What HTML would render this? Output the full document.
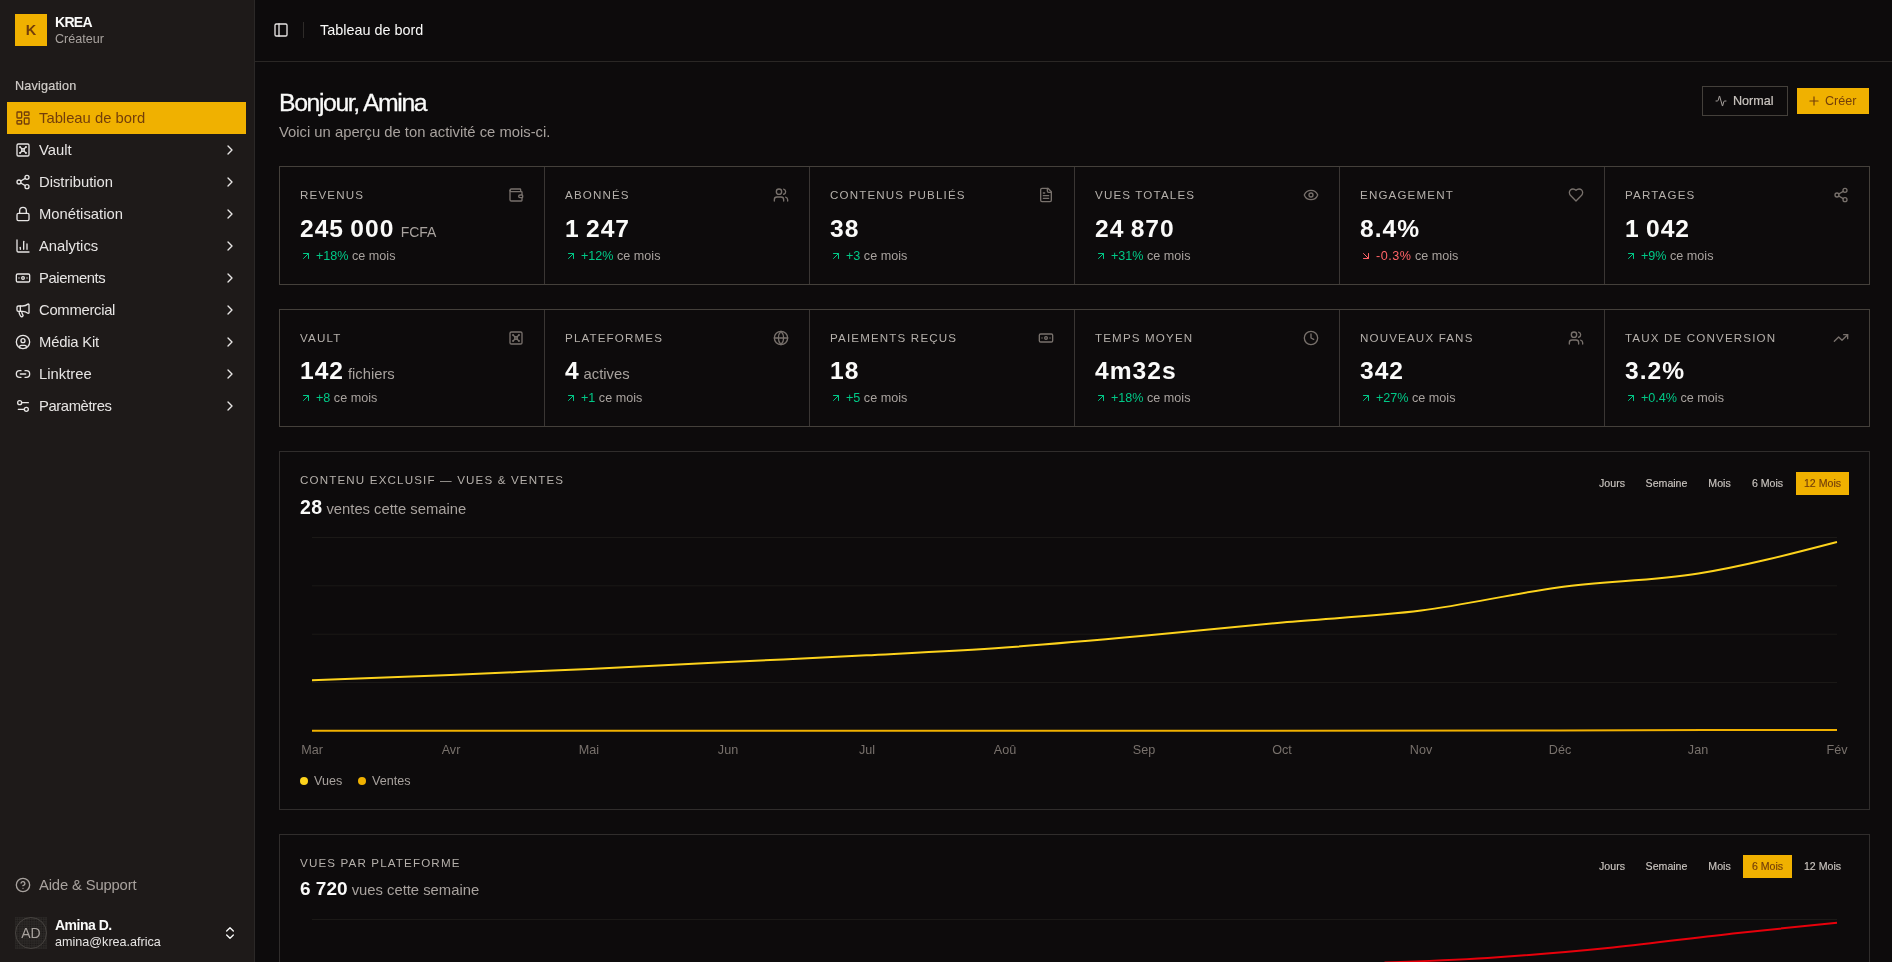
<!DOCTYPE html>
<html><head><meta charset="utf-8"><title>KREA</title>
<style>
*{margin:0;padding:0;box-sizing:content-box}
html,body{width:1892px;height:962px;overflow:hidden;background:#0d0b0c;font-family:"Liberation Sans",sans-serif;}
#sb{position:absolute;left:0;top:0;width:254px;height:962px;background:#1e1a19;border-right:1px solid #2b2827;}
#hdr{position:absolute;left:255px;top:0;width:1637px;height:61px;border-bottom:1px solid #2a2725;}
.box,.t,.t0,.ic,.abs{position:absolute}
.t0{white-space:nowrap;will-change:transform}
.ic{display:block}
</style></head><body>
<div id="sb">
<div class="box" style="left:15px;top:14px;width:32px;height:32px;background:#f0b100;"></div>
<div class="t0" style="left:15px;top:14px;font-size:14.5px;color:#733e0a;font-weight:700;letter-spacing:0px;width:32px;text-align:center;line-height:32px;height:32px;">K</div>
<div class="t0" style="left:55px;top:13px;font-size:14px;color:#fafaf9;font-weight:700;letter-spacing:-0.7px;line-height:18px;">KREA</div>
<div class="t0" style="left:55px;top:31px;font-size:12.6px;color:#a8a29e;font-weight:400;letter-spacing:0px;line-height:16px;">Créateur</div>
<div class="t0" style="left:15px;top:78px;font-size:12.6px;color:#d0ccc8;font-weight:400;letter-spacing:0.2px;line-height:16px;-webkit-text-stroke:0.2px #d0ccc8;">Navigation</div>
<div class="box" style="left:7px;top:102px;width:239px;height:32px;background:#f0b100;"></div>
<svg class="ic" style="left:15px;top:110px;width:16px;height:16px;" viewBox="0 0 24 24" fill="none" stroke="#733e0a" stroke-width="2" stroke-linecap="round" stroke-linejoin="round"><rect width="7" height="9" x="3" y="3" rx="1"/><rect width="7" height="5" x="14" y="3" rx="1"/><rect width="7" height="9" x="14" y="12" rx="1"/><rect width="7" height="5" x="3" y="16" rx="1"/></svg>
<div class="t0" style="left:39px;top:102px;font-size:14.8px;color:#733e0a;font-weight:400;letter-spacing:0px;line-height:32px;">Tableau de bord</div>
<svg class="ic" style="left:15px;top:142px;width:16px;height:16px;" viewBox="0 0 24 24" fill="none" stroke="#e7e5e4" stroke-width="2" stroke-linecap="round" stroke-linejoin="round"><rect width="18" height="18" x="3" y="3" rx="2"/><circle cx="7.5" cy="7.5" r=".5" fill="currentColor"/><path d="m7.9 7.9 2.7 2.7"/><circle cx="16.5" cy="7.5" r=".5" fill="currentColor"/><path d="m13.4 10.6 2.7-2.7"/><circle cx="7.5" cy="16.5" r=".5" fill="currentColor"/><path d="m7.9 16.1 2.7-2.7"/><circle cx="16.5" cy="16.5" r=".5" fill="currentColor"/><path d="m13.4 13.4 2.7 2.7"/><circle cx="12" cy="12" r="2"/></svg>
<div class="t0" style="left:39px;top:134px;font-size:14.8px;color:#e7e5e4;font-weight:400;letter-spacing:0px;line-height:32px;">Vault</div>
<svg class="ic" style="left:222px;top:142px;width:16px;height:16px;" viewBox="0 0 24 24" fill="none" stroke="#e7e5e4" stroke-width="2" stroke-linecap="round" stroke-linejoin="round"><path d="m9 18 6-6-6-6"/></svg>
<svg class="ic" style="left:15px;top:174px;width:16px;height:16px;" viewBox="0 0 24 24" fill="none" stroke="#e7e5e4" stroke-width="2" stroke-linecap="round" stroke-linejoin="round"><circle cx="18" cy="5" r="3"/><circle cx="6" cy="12" r="3"/><circle cx="18" cy="19" r="3"/><line x1="8.59" x2="15.42" y1="13.51" y2="17.49"/><line x1="15.41" x2="8.59" y1="6.51" y2="10.49"/></svg>
<div class="t0" style="left:39px;top:166px;font-size:14.8px;color:#e7e5e4;font-weight:400;letter-spacing:0px;line-height:32px;">Distribution</div>
<svg class="ic" style="left:222px;top:174px;width:16px;height:16px;" viewBox="0 0 24 24" fill="none" stroke="#e7e5e4" stroke-width="2" stroke-linecap="round" stroke-linejoin="round"><path d="m9 18 6-6-6-6"/></svg>
<svg class="ic" style="left:15px;top:206px;width:16px;height:16px;" viewBox="0 0 24 24" fill="none" stroke="#e7e5e4" stroke-width="2" stroke-linecap="round" stroke-linejoin="round"><rect width="18" height="11" x="3" y="11" rx="2" ry="2"/><path d="M7 11V7a5 5 0 0 1 10 0v4"/></svg>
<div class="t0" style="left:39px;top:198px;font-size:14.8px;color:#e7e5e4;font-weight:400;letter-spacing:0px;line-height:32px;">Monétisation</div>
<svg class="ic" style="left:222px;top:206px;width:16px;height:16px;" viewBox="0 0 24 24" fill="none" stroke="#e7e5e4" stroke-width="2" stroke-linecap="round" stroke-linejoin="round"><path d="m9 18 6-6-6-6"/></svg>
<svg class="ic" style="left:15px;top:238px;width:16px;height:16px;" viewBox="0 0 24 24" fill="none" stroke="#e7e5e4" stroke-width="2" stroke-linecap="round" stroke-linejoin="round"><path d="M3 3v16a2 2 0 0 0 2 2h16"/><path d="M18 17V9"/><path d="M13 17V5"/><path d="M8 17v-3"/></svg>
<div class="t0" style="left:39px;top:230px;font-size:14.8px;color:#e7e5e4;font-weight:400;letter-spacing:0px;line-height:32px;">Analytics</div>
<svg class="ic" style="left:222px;top:238px;width:16px;height:16px;" viewBox="0 0 24 24" fill="none" stroke="#e7e5e4" stroke-width="2" stroke-linecap="round" stroke-linejoin="round"><path d="m9 18 6-6-6-6"/></svg>
<svg class="ic" style="left:15px;top:270px;width:16px;height:16px;" viewBox="0 0 24 24" fill="none" stroke="#e7e5e4" stroke-width="2" stroke-linecap="round" stroke-linejoin="round"><rect width="20" height="12" x="2" y="6" rx="2"/><circle cx="12" cy="12" r="2"/><path d="M6 12h.01M18 12h.01"/></svg>
<div class="t0" style="left:39px;top:262px;font-size:14.8px;color:#e7e5e4;font-weight:400;letter-spacing:-0.4px;line-height:32px;">Paiements</div>
<svg class="ic" style="left:222px;top:270px;width:16px;height:16px;" viewBox="0 0 24 24" fill="none" stroke="#e7e5e4" stroke-width="2" stroke-linecap="round" stroke-linejoin="round"><path d="m9 18 6-6-6-6"/></svg>
<svg class="ic" style="left:15px;top:302px;width:16px;height:16px;" viewBox="0 0 24 24" fill="none" stroke="#e7e5e4" stroke-width="2" stroke-linecap="round" stroke-linejoin="round"><path d="M11 6a13 13 0 0 0 8.4-2.8A1 1 0 0 1 21 4v12a1 1 0 0 1-1.6.8A13 13 0 0 0 11 14H5a2 2 0 0 1-2-2V8a2 2 0 0 1 2-2z"/><path d="M6 14a12 12 0 0 0 2.4 7.2 2 2 0 0 0 3.2-2.4A8 8 0 0 1 10 14"/><path d="M8 6v8"/></svg>
<div class="t0" style="left:39px;top:294px;font-size:14.8px;color:#e7e5e4;font-weight:400;letter-spacing:-0.28px;line-height:32px;">Commercial</div>
<svg class="ic" style="left:222px;top:302px;width:16px;height:16px;" viewBox="0 0 24 24" fill="none" stroke="#e7e5e4" stroke-width="2" stroke-linecap="round" stroke-linejoin="round"><path d="m9 18 6-6-6-6"/></svg>
<svg class="ic" style="left:15px;top:334px;width:16px;height:16px;" viewBox="0 0 24 24" fill="none" stroke="#e7e5e4" stroke-width="2" stroke-linecap="round" stroke-linejoin="round"><circle cx="12" cy="12" r="10"/><circle cx="12" cy="10" r="3"/><path d="M7 20.662V19a2 2 0 0 1 2-2h6a2 2 0 0 1 2 2v1.662"/></svg>
<div class="t0" style="left:39px;top:326px;font-size:14.8px;color:#e7e5e4;font-weight:400;letter-spacing:-0.2px;line-height:32px;">Média Kit</div>
<svg class="ic" style="left:222px;top:334px;width:16px;height:16px;" viewBox="0 0 24 24" fill="none" stroke="#e7e5e4" stroke-width="2" stroke-linecap="round" stroke-linejoin="round"><path d="m9 18 6-6-6-6"/></svg>
<svg class="ic" style="left:15px;top:366px;width:16px;height:16px;" viewBox="0 0 24 24" fill="none" stroke="#e7e5e4" stroke-width="2" stroke-linecap="round" stroke-linejoin="round"><path d="M9 17H7A5 5 0 0 1 7 7h2"/><path d="M15 7h2a5 5 0 1 1 0 10h-2"/><line x1="8" x2="16" y1="12" y2="12"/></svg>
<div class="t0" style="left:39px;top:358px;font-size:14.8px;color:#e7e5e4;font-weight:400;letter-spacing:0px;line-height:32px;">Linktree</div>
<svg class="ic" style="left:222px;top:366px;width:16px;height:16px;" viewBox="0 0 24 24" fill="none" stroke="#e7e5e4" stroke-width="2" stroke-linecap="round" stroke-linejoin="round"><path d="m9 18 6-6-6-6"/></svg>
<svg class="ic" style="left:15px;top:398px;width:16px;height:16px;" viewBox="0 0 24 24" fill="none" stroke="#e7e5e4" stroke-width="2" stroke-linecap="round" stroke-linejoin="round"><path d="M20 7h-9"/><path d="M14 17H5"/><circle cx="17" cy="17" r="3"/><circle cx="7" cy="7" r="3"/></svg>
<div class="t0" style="left:39px;top:390px;font-size:14.8px;color:#e7e5e4;font-weight:400;letter-spacing:-0.4px;line-height:32px;">Paramètres</div>
<svg class="ic" style="left:222px;top:398px;width:16px;height:16px;" viewBox="0 0 24 24" fill="none" stroke="#e7e5e4" stroke-width="2" stroke-linecap="round" stroke-linejoin="round"><path d="m9 18 6-6-6-6"/></svg>
<svg class="ic" style="left:15px;top:877px;width:16px;height:16px;" viewBox="0 0 24 24" fill="none" stroke="#a8a29e" stroke-width="2" stroke-linecap="round" stroke-linejoin="round"><circle cx="12" cy="12" r="10"/><path d="M9.09 9a3 3 0 0 1 5.83 1c0 2-3 3-3 3"/><path d="M12 17h.01"/></svg>
<div class="t0" style="left:39px;top:869px;font-size:14.8px;color:#a8a29e;font-weight:400;letter-spacing:-0.15px;line-height:32px;">Aide &amp; Support</div>
<div class="box" style="left:15px;top:917px;width:32px;height:32px;background:radial-gradient(circle,#1a1716 0.55px,transparent 0.9px) 0 0/2.4px 2.4px,#2b2826;"></div>
<div class="box" style="left:15px;top:917px;width:30px;height:30px;border:1px solid #46423f;border-radius:50%;"></div>
<div class="t0" style="left:15px;top:917px;font-size:14px;color:#a8a29e;font-weight:400;letter-spacing:0px;width:32px;text-align:center;line-height:32px;">AD</div>
<div class="t0" style="left:55px;top:916px;font-size:14px;color:#fafaf9;font-weight:700;letter-spacing:-0.5px;line-height:18px;">Amina D.</div>
<div class="t0" style="left:55px;top:934px;font-size:12.6px;color:#e7e5e4;font-weight:400;letter-spacing:0px;line-height:16px;">amina@krea.africa</div>
<svg class="ic" style="left:222px;top:925px;width:16px;height:16px;" viewBox="0 0 24 24" fill="none" stroke="#fafaf9" stroke-width="2" stroke-linecap="round" stroke-linejoin="round"><path d="m7 15 5 5 5-5"/><path d="m7 9 5-5 5 5"/></svg>
</div>
<div id="hdr"></div>
<svg class="ic" style="left:273px;top:22px;width:16px;height:16px;" viewBox="0 0 24 24" fill="none" stroke="#e7e5e4" stroke-width="2" stroke-linecap="round" stroke-linejoin="round"><rect width="18" height="18" x="3" y="3" rx="2"/><path d="M9 3v18"/></svg>
<div class="box" style="left:303px;top:22px;width:1px;height:16px;background:#2e2b29;"></div>
<div class="t0" style="left:320px;top:21px;font-size:14.4px;color:#fafaf9;font-weight:400;letter-spacing:0px;line-height:18px;">Tableau de bord</div>
<div class="t0" style="left:279px;top:88px;font-size:24.8px;color:#fafaf9;font-weight:400;letter-spacing:-1.4px;line-height:30px;-webkit-text-stroke:0.3px #fafaf9;">Bonjour, Amina</div>
<div class="t0" style="left:279px;top:122px;font-size:14.8px;color:#a8a29e;font-weight:400;letter-spacing:0px;line-height:20px;">Voici un aperçu de ton activité ce mois-ci.</div>
<div class="box" style="left:1702px;top:86px;width:84px;height:28px;border:1px solid #44403b;"></div>
<svg class="ic" style="left:1715px;top:95px;width:12px;height:12px;" viewBox="0 0 24 24" fill="none" stroke="#a8a29e" stroke-width="2" stroke-linecap="round" stroke-linejoin="round"><path d="M22 12h-2.48a2 2 0 0 0-1.93 1.46l-2.35 8.36a.25.25 0 0 1-.48 0L9.24 2.18a.25.25 0 0 0-.48 0l-2.35 8.36A2 2 0 0 1 4.49 12H2"/></svg>
<div class="t0" style="left:1733px;top:92px;font-size:12.6px;color:#c9c4bf;font-weight:400;letter-spacing:0px;line-height:18px;-webkit-text-stroke:0.2px #c9c4bf;">Normal</div>
<div class="box" style="left:1797px;top:88px;width:72px;height:26px;background:#f0b100;"></div>
<svg class="ic" style="left:1807px;top:94px;width:14px;height:14px;" viewBox="0 0 24 24" fill="none" stroke="#733e0a" stroke-width="2" stroke-linecap="round" stroke-linejoin="round"><path d="M5 12h14"/><path d="M12 5v14"/></svg>
<div class="t0" style="left:1825px;top:92px;font-size:12.6px;color:#733e0a;font-weight:400;letter-spacing:0px;line-height:18px;">Créer</div>
<div class="box" style="left:279px;top:166px;width:1589px;height:117px;border:1px solid #44403b;"></div>
<div class="box" style="left:544px;top:167px;width:1px;height:117px;background:#3a3634;"></div>
<div class="box" style="left:809px;top:167px;width:1px;height:117px;background:#3a3634;"></div>
<div class="box" style="left:1074px;top:167px;width:1px;height:117px;background:#3a3634;"></div>
<div class="box" style="left:1339px;top:167px;width:1px;height:117px;background:#3a3634;"></div>
<div class="box" style="left:1604px;top:167px;width:1px;height:117px;background:#3a3634;"></div>
<div class="t0" style="left:300px;top:187px;font-size:11.6px;color:#b5b0ab;font-weight:400;letter-spacing:1.15px;line-height:16px;">REVENUS</div>
<svg class="ic" style="left:508px;top:187px;width:16px;height:16px;" viewBox="0 0 24 24" fill="none" stroke="#78716c" stroke-width="2" stroke-linecap="round" stroke-linejoin="round"><path d="M19 7V4a1 1 0 0 0-1-1H5a2 2 0 0 0 0 4h15a1 1 0 0 1 1 1v4h-3a2 2 0 0 0 0 4h3a1 1 0 0 0 1-1v-2a1 1 0 0 0-1-1"/><path d="M3 5v14a2 2 0 0 0 2 2h15a1 1 0 0 0 1-1v-4"/></svg>
<div class="t0" style="left:300px;top:212px;font-size:24.6px;color:#fafaf9;font-weight:700;letter-spacing:1.0px;line-height:33px;word-spacing:-1.5px;">245 000 <span style="font-size:14px;font-weight:400;color:#a8a29e;letter-spacing:-0.1px">FCFA</span></div>
<svg class="ic" style="left:300px;top:250px;width:12px;height:12px;" viewBox="0 0 24 24" fill="none" stroke="#00c987" stroke-width="2" stroke-linecap="round" stroke-linejoin="round"><path d="M7 7h10v10"/><path d="M7 17 17 7"/></svg>
<div class="t0" style="left:316px;top:247px;font-size:12.6px;color:#a8a29e;font-weight:400;letter-spacing:0px;line-height:18px;"><span style="color:#00c987;letter-spacing:0px">+18%</span> ce mois</div>
<div class="t0" style="left:565px;top:187px;font-size:11.6px;color:#b5b0ab;font-weight:400;letter-spacing:1.15px;line-height:16px;">ABONNÉS</div>
<svg class="ic" style="left:773px;top:187px;width:16px;height:16px;" viewBox="0 0 24 24" fill="none" stroke="#78716c" stroke-width="2" stroke-linecap="round" stroke-linejoin="round"><path d="M16 21v-2a4 4 0 0 0-4-4H6a4 4 0 0 0-4 4v2"/><circle cx="9" cy="7" r="4"/><path d="M22 21v-2a4 4 0 0 0-3-3.87"/><path d="M16 3.13a4 4 0 0 1 0 7.75"/></svg>
<div class="t0" style="left:565px;top:212px;font-size:24.6px;color:#fafaf9;font-weight:700;letter-spacing:1.0px;line-height:33px;word-spacing:-1.5px;">1 247</div>
<svg class="ic" style="left:565px;top:250px;width:12px;height:12px;" viewBox="0 0 24 24" fill="none" stroke="#00c987" stroke-width="2" stroke-linecap="round" stroke-linejoin="round"><path d="M7 7h10v10"/><path d="M7 17 17 7"/></svg>
<div class="t0" style="left:581px;top:247px;font-size:12.6px;color:#a8a29e;font-weight:400;letter-spacing:0px;line-height:18px;"><span style="color:#00c987;letter-spacing:0px">+12%</span> ce mois</div>
<div class="t0" style="left:830px;top:187px;font-size:11.6px;color:#b5b0ab;font-weight:400;letter-spacing:1.15px;line-height:16px;">CONTENUS PUBLIÉS</div>
<svg class="ic" style="left:1038px;top:187px;width:16px;height:16px;" viewBox="0 0 24 24" fill="none" stroke="#78716c" stroke-width="2" stroke-linecap="round" stroke-linejoin="round"><path d="M15 2H6a2 2 0 0 0-2 2v16a2 2 0 0 0 2 2h12a2 2 0 0 0 2-2V7Z"/><path d="M14 2v4a2 2 0 0 0 2 2h4"/><path d="M10 9H8"/><path d="M16 13H8"/><path d="M16 17H8"/></svg>
<div class="t0" style="left:830px;top:212px;font-size:24.6px;color:#fafaf9;font-weight:700;letter-spacing:1.0px;line-height:33px;word-spacing:-1.5px;">38</div>
<svg class="ic" style="left:830px;top:250px;width:12px;height:12px;" viewBox="0 0 24 24" fill="none" stroke="#00c987" stroke-width="2" stroke-linecap="round" stroke-linejoin="round"><path d="M7 7h10v10"/><path d="M7 17 17 7"/></svg>
<div class="t0" style="left:846px;top:247px;font-size:12.6px;color:#a8a29e;font-weight:400;letter-spacing:0px;line-height:18px;"><span style="color:#00c987;letter-spacing:0px">+3</span> ce mois</div>
<div class="t0" style="left:1095px;top:187px;font-size:11.6px;color:#b5b0ab;font-weight:400;letter-spacing:1.15px;line-height:16px;">VUES TOTALES</div>
<svg class="ic" style="left:1303px;top:187px;width:16px;height:16px;" viewBox="0 0 24 24" fill="none" stroke="#78716c" stroke-width="2" stroke-linecap="round" stroke-linejoin="round"><path d="M2.062 12.348a1 1 0 0 1 0-.696 10.75 10.75 0 0 1 19.876 0 1 1 0 0 1 0 .696 10.75 10.75 0 0 1-19.876 0"/><circle cx="12" cy="12" r="3"/></svg>
<div class="t0" style="left:1095px;top:212px;font-size:24.6px;color:#fafaf9;font-weight:700;letter-spacing:1.0px;line-height:33px;word-spacing:-1.5px;">24 870</div>
<svg class="ic" style="left:1095px;top:250px;width:12px;height:12px;" viewBox="0 0 24 24" fill="none" stroke="#00c987" stroke-width="2" stroke-linecap="round" stroke-linejoin="round"><path d="M7 7h10v10"/><path d="M7 17 17 7"/></svg>
<div class="t0" style="left:1111px;top:247px;font-size:12.6px;color:#a8a29e;font-weight:400;letter-spacing:0px;line-height:18px;"><span style="color:#00c987;letter-spacing:0px">+31%</span> ce mois</div>
<div class="t0" style="left:1360px;top:187px;font-size:11.6px;color:#b5b0ab;font-weight:400;letter-spacing:1.15px;line-height:16px;">ENGAGEMENT</div>
<svg class="ic" style="left:1568px;top:187px;width:16px;height:16px;" viewBox="0 0 24 24" fill="none" stroke="#78716c" stroke-width="2" stroke-linecap="round" stroke-linejoin="round"><path d="M19 14c1.49-1.46 3-3.21 3-5.5A5.5 5.5 0 0 0 16.5 3c-1.76 0-3 .5-4.5 2-1.5-1.5-2.74-2-4.5-2A5.5 5.5 0 0 0 2 8.5c0 2.3 1.5 4.05 3 5.5l7 7Z"/></svg>
<div class="t0" style="left:1360px;top:212px;font-size:24.6px;color:#fafaf9;font-weight:700;letter-spacing:1.0px;line-height:33px;word-spacing:-1.5px;">8.4%</div>
<svg class="ic" style="left:1360px;top:250px;width:12px;height:12px;" viewBox="0 0 24 24" fill="none" stroke="#ff6467" stroke-width="2" stroke-linecap="round" stroke-linejoin="round"><path d="m7 7 10 10"/><path d="M17 7v10H7"/></svg>
<div class="t0" style="left:1376px;top:247px;font-size:12.6px;color:#a8a29e;font-weight:400;letter-spacing:0px;line-height:18px;"><span style="color:#ff6467;letter-spacing:0.5px">-0.3%</span> ce mois</div>
<div class="t0" style="left:1625px;top:187px;font-size:11.6px;color:#b5b0ab;font-weight:400;letter-spacing:1.15px;line-height:16px;">PARTAGES</div>
<svg class="ic" style="left:1833px;top:187px;width:16px;height:16px;" viewBox="0 0 24 24" fill="none" stroke="#78716c" stroke-width="2" stroke-linecap="round" stroke-linejoin="round"><circle cx="18" cy="5" r="3"/><circle cx="6" cy="12" r="3"/><circle cx="18" cy="19" r="3"/><line x1="8.59" x2="15.42" y1="13.51" y2="17.49"/><line x1="15.41" x2="8.59" y1="6.51" y2="10.49"/></svg>
<div class="t0" style="left:1625px;top:212px;font-size:24.6px;color:#fafaf9;font-weight:700;letter-spacing:1.0px;line-height:33px;word-spacing:-1.5px;">1 042</div>
<svg class="ic" style="left:1625px;top:250px;width:12px;height:12px;" viewBox="0 0 24 24" fill="none" stroke="#00c987" stroke-width="2" stroke-linecap="round" stroke-linejoin="round"><path d="M7 7h10v10"/><path d="M7 17 17 7"/></svg>
<div class="t0" style="left:1641px;top:247px;font-size:12.6px;color:#a8a29e;font-weight:400;letter-spacing:0px;line-height:18px;"><span style="color:#00c987;letter-spacing:0px">+9%</span> ce mois</div>
<div class="box" style="left:279px;top:309px;width:1589px;height:116px;border:1px solid #44403b;"></div>
<div class="box" style="left:544px;top:310px;width:1px;height:116px;background:#3a3634;"></div>
<div class="box" style="left:809px;top:310px;width:1px;height:116px;background:#3a3634;"></div>
<div class="box" style="left:1074px;top:310px;width:1px;height:116px;background:#3a3634;"></div>
<div class="box" style="left:1339px;top:310px;width:1px;height:116px;background:#3a3634;"></div>
<div class="box" style="left:1604px;top:310px;width:1px;height:116px;background:#3a3634;"></div>
<div class="t0" style="left:300px;top:330px;font-size:11.6px;color:#b5b0ab;font-weight:400;letter-spacing:1.15px;line-height:16px;">VAULT</div>
<svg class="ic" style="left:508px;top:330px;width:16px;height:16px;" viewBox="0 0 24 24" fill="none" stroke="#78716c" stroke-width="2" stroke-linecap="round" stroke-linejoin="round"><rect width="18" height="18" x="3" y="3" rx="2"/><circle cx="7.5" cy="7.5" r=".5" fill="currentColor"/><path d="m7.9 7.9 2.7 2.7"/><circle cx="16.5" cy="7.5" r=".5" fill="currentColor"/><path d="m13.4 10.6 2.7-2.7"/><circle cx="7.5" cy="16.5" r=".5" fill="currentColor"/><path d="m7.9 16.1 2.7-2.7"/><circle cx="16.5" cy="16.5" r=".5" fill="currentColor"/><path d="m13.4 13.4 2.7 2.7"/><circle cx="12" cy="12" r="2"/></svg>
<div class="t0" style="left:300px;top:354px;font-size:24.6px;color:#fafaf9;font-weight:700;letter-spacing:1.0px;line-height:33px;word-spacing:-1.5px;">142 <span style="font-size:14.8px;font-weight:400;color:#a8a29e;letter-spacing:0;margin-left:-2.5px">fichiers</span></div>
<svg class="ic" style="left:300px;top:392px;width:12px;height:12px;" viewBox="0 0 24 24" fill="none" stroke="#00c987" stroke-width="2" stroke-linecap="round" stroke-linejoin="round"><path d="M7 7h10v10"/><path d="M7 17 17 7"/></svg>
<div class="t0" style="left:316px;top:389px;font-size:12.6px;color:#a8a29e;font-weight:400;letter-spacing:0px;line-height:18px;"><span style="color:#00c987;letter-spacing:0px">+8</span> ce mois</div>
<div class="t0" style="left:565px;top:330px;font-size:11.6px;color:#b5b0ab;font-weight:400;letter-spacing:1.15px;line-height:16px;">PLATEFORMES</div>
<svg class="ic" style="left:773px;top:330px;width:16px;height:16px;" viewBox="0 0 24 24" fill="none" stroke="#78716c" stroke-width="2" stroke-linecap="round" stroke-linejoin="round"><circle cx="12" cy="12" r="10"/><path d="M12 2a14.5 14.5 0 0 0 0 20 14.5 14.5 0 0 0 0-20"/><path d="M2 12h20"/></svg>
<div class="t0" style="left:565px;top:354px;font-size:24.6px;color:#fafaf9;font-weight:700;letter-spacing:1.0px;line-height:33px;word-spacing:-1.5px;">4 <span style="font-size:14.8px;font-weight:400;color:#a8a29e;letter-spacing:0;margin-left:-2.5px">actives</span></div>
<svg class="ic" style="left:565px;top:392px;width:12px;height:12px;" viewBox="0 0 24 24" fill="none" stroke="#00c987" stroke-width="2" stroke-linecap="round" stroke-linejoin="round"><path d="M7 7h10v10"/><path d="M7 17 17 7"/></svg>
<div class="t0" style="left:581px;top:389px;font-size:12.6px;color:#a8a29e;font-weight:400;letter-spacing:0px;line-height:18px;"><span style="color:#00c987;letter-spacing:0px">+1</span> ce mois</div>
<div class="t0" style="left:830px;top:330px;font-size:11.6px;color:#b5b0ab;font-weight:400;letter-spacing:1.15px;line-height:16px;">PAIEMENTS REÇUS</div>
<svg class="ic" style="left:1038px;top:330px;width:16px;height:16px;" viewBox="0 0 24 24" fill="none" stroke="#78716c" stroke-width="2" stroke-linecap="round" stroke-linejoin="round"><rect width="20" height="12" x="2" y="6" rx="2"/><circle cx="12" cy="12" r="2"/><path d="M6 12h.01M18 12h.01"/></svg>
<div class="t0" style="left:830px;top:354px;font-size:24.6px;color:#fafaf9;font-weight:700;letter-spacing:1.0px;line-height:33px;word-spacing:-1.5px;">18</div>
<svg class="ic" style="left:830px;top:392px;width:12px;height:12px;" viewBox="0 0 24 24" fill="none" stroke="#00c987" stroke-width="2" stroke-linecap="round" stroke-linejoin="round"><path d="M7 7h10v10"/><path d="M7 17 17 7"/></svg>
<div class="t0" style="left:846px;top:389px;font-size:12.6px;color:#a8a29e;font-weight:400;letter-spacing:0px;line-height:18px;"><span style="color:#00c987;letter-spacing:0px">+5</span> ce mois</div>
<div class="t0" style="left:1095px;top:330px;font-size:11.6px;color:#b5b0ab;font-weight:400;letter-spacing:1.15px;line-height:16px;">TEMPS MOYEN</div>
<svg class="ic" style="left:1303px;top:330px;width:16px;height:16px;" viewBox="0 0 24 24" fill="none" stroke="#78716c" stroke-width="2" stroke-linecap="round" stroke-linejoin="round"><circle cx="12" cy="12" r="10"/><polyline points="12 6 12 12 16 14"/></svg>
<div class="t0" style="left:1095px;top:354px;font-size:24.6px;color:#fafaf9;font-weight:700;letter-spacing:1.0px;line-height:33px;word-spacing:-1.5px;">4m32s</div>
<svg class="ic" style="left:1095px;top:392px;width:12px;height:12px;" viewBox="0 0 24 24" fill="none" stroke="#00c987" stroke-width="2" stroke-linecap="round" stroke-linejoin="round"><path d="M7 7h10v10"/><path d="M7 17 17 7"/></svg>
<div class="t0" style="left:1111px;top:389px;font-size:12.6px;color:#a8a29e;font-weight:400;letter-spacing:0px;line-height:18px;"><span style="color:#00c987;letter-spacing:0px">+18%</span> ce mois</div>
<div class="t0" style="left:1360px;top:330px;font-size:11.6px;color:#b5b0ab;font-weight:400;letter-spacing:1.15px;line-height:16px;">NOUVEAUX FANS</div>
<svg class="ic" style="left:1568px;top:330px;width:16px;height:16px;" viewBox="0 0 24 24" fill="none" stroke="#78716c" stroke-width="2" stroke-linecap="round" stroke-linejoin="round"><path d="M16 21v-2a4 4 0 0 0-4-4H6a4 4 0 0 0-4 4v2"/><circle cx="9" cy="7" r="4"/><path d="M22 21v-2a4 4 0 0 0-3-3.87"/><path d="M16 3.13a4 4 0 0 1 0 7.75"/></svg>
<div class="t0" style="left:1360px;top:354px;font-size:24.6px;color:#fafaf9;font-weight:700;letter-spacing:1.0px;line-height:33px;word-spacing:-1.5px;">342</div>
<svg class="ic" style="left:1360px;top:392px;width:12px;height:12px;" viewBox="0 0 24 24" fill="none" stroke="#00c987" stroke-width="2" stroke-linecap="round" stroke-linejoin="round"><path d="M7 7h10v10"/><path d="M7 17 17 7"/></svg>
<div class="t0" style="left:1376px;top:389px;font-size:12.6px;color:#a8a29e;font-weight:400;letter-spacing:0px;line-height:18px;"><span style="color:#00c987;letter-spacing:0px">+27%</span> ce mois</div>
<div class="t0" style="left:1625px;top:330px;font-size:11.6px;color:#b5b0ab;font-weight:400;letter-spacing:1.15px;line-height:16px;">TAUX DE CONVERSION</div>
<svg class="ic" style="left:1833px;top:330px;width:16px;height:16px;" viewBox="0 0 24 24" fill="none" stroke="#78716c" stroke-width="2" stroke-linecap="round" stroke-linejoin="round"><polyline points="22 7 13.5 15.5 8.5 10.5 2 17"/><polyline points="16 7 22 7 22 13"/></svg>
<div class="t0" style="left:1625px;top:354px;font-size:24.6px;color:#fafaf9;font-weight:700;letter-spacing:1.0px;line-height:33px;word-spacing:-1.5px;">3.2%</div>
<svg class="ic" style="left:1625px;top:392px;width:12px;height:12px;" viewBox="0 0 24 24" fill="none" stroke="#00c987" stroke-width="2" stroke-linecap="round" stroke-linejoin="round"><path d="M7 7h10v10"/><path d="M7 17 17 7"/></svg>
<div class="t0" style="left:1641px;top:389px;font-size:12.6px;color:#a8a29e;font-weight:400;letter-spacing:0px;line-height:18px;"><span style="color:#00c987;letter-spacing:0px">+0.4%</span> ce mois</div>
<div class="box" style="left:279px;top:451px;width:1589px;height:357px;border:1px solid #302d2c;"></div>
<div class="t0" style="left:300px;top:472px;font-size:11.6px;color:#b5b0ab;font-weight:400;letter-spacing:1.15px;line-height:16px;">CONTENU EXCLUSIF — VUES &amp; VENTES</div>
<div class="t0" style="left:300px;top:496px;font-size:14.8px;color:#a8a29e;font-weight:400;letter-spacing:0px;line-height:22px;"><b style="font-size:19.5px;color:#fafaf9;letter-spacing:0.3px">28</b> ventes cette semaine</div>
<div class="t0" style="left:1590px;top:472px;font-size:10.6px;color:#c9c4bf;font-weight:400;letter-spacing:0px;width:44px;text-align:center;line-height:23px;-webkit-text-stroke:0.15px #c9c4bf;">Jours</div>
<div class="t0" style="left:1638px;top:472px;font-size:10.6px;color:#c9c4bf;font-weight:400;letter-spacing:0px;width:57px;text-align:center;line-height:23px;-webkit-text-stroke:0.15px #c9c4bf;">Semaine</div>
<div class="t0" style="left:1699.5px;top:472px;font-size:10.6px;color:#c9c4bf;font-weight:400;letter-spacing:0px;width:39px;text-align:center;line-height:23px;-webkit-text-stroke:0.15px #c9c4bf;">Mois</div>
<div class="t0" style="left:1743px;top:472px;font-size:10.6px;color:#c9c4bf;font-weight:400;letter-spacing:0px;width:49px;text-align:center;line-height:23px;-webkit-text-stroke:0.15px #c9c4bf;">6 Mois</div>
<div class="box" style="left:1796px;top:472px;width:53px;height:23px;background:#f0b100;"></div>
<div class="t0" style="left:1796px;top:472px;font-size:10.6px;color:#733e0a;font-weight:400;letter-spacing:0px;width:53px;text-align:center;line-height:23px;-webkit-text-stroke:0.15px #733e0a;">12 Mois</div>
<div class="t0" style="left:282.0px;top:742px;font-size:12.6px;color:#78716c;font-weight:400;letter-spacing:0px;width:60px;text-align:center;line-height:16px;">Mar</div>
<div class="t0" style="left:420.6363636363636px;top:742px;font-size:12.6px;color:#78716c;font-weight:400;letter-spacing:0px;width:60px;text-align:center;line-height:16px;">Avr</div>
<div class="t0" style="left:559.2727272727273px;top:742px;font-size:12.6px;color:#78716c;font-weight:400;letter-spacing:0px;width:60px;text-align:center;line-height:16px;">Mai</div>
<div class="t0" style="left:697.909090909091px;top:742px;font-size:12.6px;color:#78716c;font-weight:400;letter-spacing:0px;width:60px;text-align:center;line-height:16px;">Jun</div>
<div class="t0" style="left:836.5454545454545px;top:742px;font-size:12.6px;color:#78716c;font-weight:400;letter-spacing:0px;width:60px;text-align:center;line-height:16px;">Jul</div>
<div class="t0" style="left:975.1818181818181px;top:742px;font-size:12.6px;color:#78716c;font-weight:400;letter-spacing:0px;width:60px;text-align:center;line-height:16px;">Aoû</div>
<div class="t0" style="left:1113.818181818182px;top:742px;font-size:12.6px;color:#78716c;font-weight:400;letter-spacing:0px;width:60px;text-align:center;line-height:16px;">Sep</div>
<div class="t0" style="left:1252.4545454545455px;top:742px;font-size:12.6px;color:#78716c;font-weight:400;letter-spacing:0px;width:60px;text-align:center;line-height:16px;">Oct</div>
<div class="t0" style="left:1391.090909090909px;top:742px;font-size:12.6px;color:#78716c;font-weight:400;letter-spacing:0px;width:60px;text-align:center;line-height:16px;">Nov</div>
<div class="t0" style="left:1529.7272727272727px;top:742px;font-size:12.6px;color:#78716c;font-weight:400;letter-spacing:0px;width:60px;text-align:center;line-height:16px;">Déc</div>
<div class="t0" style="left:1668.3636363636363px;top:742px;font-size:12.6px;color:#78716c;font-weight:400;letter-spacing:0px;width:60px;text-align:center;line-height:16px;">Jan</div>
<div class="t0" style="left:1807.0px;top:742px;font-size:12.6px;color:#78716c;font-weight:400;letter-spacing:0px;width:60px;text-align:center;line-height:16px;">Fév</div>
<div class="box" style="left:300px;top:777px;width:8px;height:8px;border-radius:50%;background:#fdd31c;"></div>
<div class="t0" style="left:314px;top:773px;font-size:12.6px;color:#a8a29e;font-weight:400;letter-spacing:0px;line-height:16px;">Vues</div>
<div class="box" style="left:358px;top:777px;width:8px;height:8px;border-radius:50%;background:#f0b100;"></div>
<div class="t0" style="left:372px;top:773px;font-size:12.6px;color:#a8a29e;font-weight:400;letter-spacing:0px;line-height:16px;">Ventes</div>
<div class="box" style="left:279px;top:834px;width:1589px;height:200px;border:1px solid #302d2c;"></div>
<div class="t0" style="left:300px;top:855px;font-size:11.6px;color:#b5b0ab;font-weight:400;letter-spacing:1.15px;line-height:16px;">VUES PAR PLATEFORME</div>
<div class="t0" style="left:300px;top:878px;font-size:14.8px;color:#a8a29e;font-weight:400;letter-spacing:0px;line-height:22px;"><b style="font-size:19px;color:#fafaf9">6 720</b> vues cette semaine</div>
<div class="t0" style="left:1590px;top:855px;font-size:10.6px;color:#c9c4bf;font-weight:400;letter-spacing:0px;width:44px;text-align:center;line-height:23px;-webkit-text-stroke:0.15px #c9c4bf;">Jours</div>
<div class="t0" style="left:1638px;top:855px;font-size:10.6px;color:#c9c4bf;font-weight:400;letter-spacing:0px;width:57px;text-align:center;line-height:23px;-webkit-text-stroke:0.15px #c9c4bf;">Semaine</div>
<div class="t0" style="left:1699.5px;top:855px;font-size:10.6px;color:#c9c4bf;font-weight:400;letter-spacing:0px;width:39px;text-align:center;line-height:23px;-webkit-text-stroke:0.15px #c9c4bf;">Mois</div>
<div class="box" style="left:1743px;top:855px;width:49px;height:23px;background:#f0b100;"></div>
<div class="t0" style="left:1743px;top:855px;font-size:10.6px;color:#733e0a;font-weight:400;letter-spacing:0px;width:49px;text-align:center;line-height:23px;-webkit-text-stroke:0.15px #733e0a;">6 Mois</div>
<div class="t0" style="left:1796px;top:855px;font-size:10.6px;color:#c9c4bf;font-weight:400;letter-spacing:0px;width:53px;text-align:center;line-height:23px;-webkit-text-stroke:0.15px #c9c4bf;">12 Mois</div>
<svg class="abs" style="left:0;top:0" width="1892" height="962"><line x1="312" x2="1837" y1="537.5" y2="537.5" stroke="#1b1917" stroke-width="1"/><line x1="312" x2="1837" y1="585.8" y2="585.8" stroke="#1b1917" stroke-width="1"/><line x1="312" x2="1837" y1="634.2" y2="634.2" stroke="#1b1917" stroke-width="1"/><line x1="312" x2="1837" y1="682.5" y2="682.5" stroke="#1b1917" stroke-width="1"/><path d="M312.0,680.3C358.2,678.5,404.4,676.8,450.6,674.9C496.8,673.0,543.1,671.0,589.3,668.9C635.5,666.8,681.7,664.4,727.9,662.1C774.1,659.8,820.3,657.7,866.5,655.3C912.8,652.9,959.0,650.8,1005.2,647.5C1051.4,644.2,1097.6,640.0,1143.8,635.8C1190.0,631.6,1236.2,626.6,1282.5,622.4C1328.7,618.2,1374.9,616.5,1421.1,610.6C1467.3,604.7,1513.5,593.4,1559.7,587.2C1605.9,581.0,1652.2,581.1,1698.4,573.6C1744.6,566.1,1790.8,554.0,1837.0,542.0" fill="none" stroke="#fdd31c" stroke-width="2"/><path d="M312.0,730.8C610.0,730.8,908.0,730.8,1206.0,730.7C1324.0,730.7,1442.0,730.6,1560.0,730.5C1608.7,730.4,1657.3,730.2,1706.0,730.1C1749.7,730.0,1793.3,730.0,1837.0,730.0" fill="none" stroke="#f0b100" stroke-width="2"/><line x1="312" x2="1837" y1="919.5" y2="919.5" stroke="#1b1917" stroke-width="1"/><path d="M1384.5,962.5C1418.9,961.3,1453.3,960.0,1487.7,957.9C1529.4,955.3,1571.2,951.7,1612.9,947.5C1654.6,943.3,1696.3,937.4,1738.0,932.9C1771.0,929.3,1804.0,926.1,1837.0,922.8" fill="none" stroke="#e7000b" stroke-width="2"/></svg>
</body></html>
